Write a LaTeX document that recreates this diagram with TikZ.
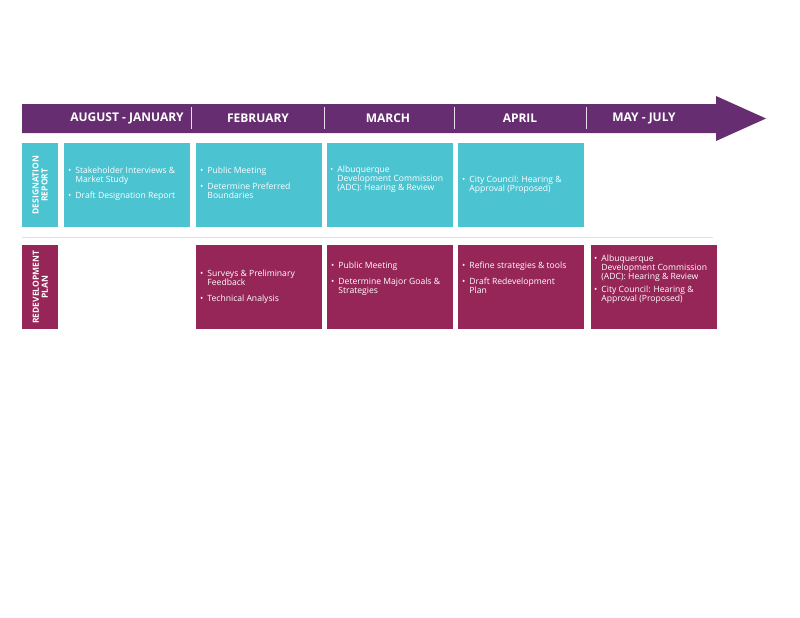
\documentclass[tikz,border=0pt]{standalone}
\usepackage{fontspec}
\setmainfont{Open Sans}
\usetikzlibrary{calc}
\definecolor{tlpurple}{HTML}{662D71}
\definecolor{tlcyan}{HTML}{4BC3D1}
\definecolor{tlplum}{HTML}{962658}
\newcommand{\bl}[1]{\textbullet\hspace{4pt}\begin{tabular}[t]{@{}l@{}}#1\end{tabular}}
\tikzstyle{month} = [text=white, font=\bfseries\fontsize{12}{14}\selectfont]
\tikzstyle{phase} = [minimum width=126pt, minimum height=84pt, inner sep=0pt, anchor=north west]
\tikzstyle{rowlbl} = [minimum width=36pt, minimum height=84pt, inner sep=0pt, anchor=north west]
\tikzstyle{task} = [text=white, anchor=west, inner sep=0pt, align=left,
  font=\fontsize{8.6}{8.6}\selectfont, execute at begin node={\renewcommand{\arraystretch}{0.95}}]

\begin{document}
\begin{tikzpicture}[x=1pt,y=-1pt]
	\useasboundingbox (0,0) rectangle (800,618);

	% timeline arrow
	\fill[tlpurple] (22,104) -- (716,104) -- (716,96) -- (766,118.5)
		-- (716,141) -- (716,133) -- (22,133) -- cycle;
	\foreach \x in {191,324,454,586}
		\draw[white!85!tlpurple, line width=1pt] (\x,107) -- (\x,129);
	\foreach \x/\m in {127/AUGUST - JANUARY,258/FEBRUARY,388/MARCH,520/APRIL,644/MAY - JULY}
		\node[month] at (\x,118.5) {\m};

	% designation report row
	\node[rowlbl, fill=tlcyan] (dlbl) at (22,143) {};
	\node[text=white, rotate=90, align=center, font=\bfseries\fontsize{8.5}{9}\selectfont]
		at (dlbl.center) {DESIGNATION\\REPORT};
	\foreach \x/\n in {64/d1,196/d2,327/d3,458/d4}
		\node[phase, fill=tlcyan] (\n) at (\x,143) {};

	\node[task] at ($(d1.west)+(4,-1)$) {\bl{Stakeholder Interviews \&\\Market Study}\\[6pt]\bl{Draft Designation Report}};
	\node[task] at ($(d2.west)+(4,-1)$) {\bl{Public Meeting}\\[6pt]\bl{Determine Preferred\\Boundaries}};
	\node[task] at ($(d3.west)+(3,-6)$) {\bl{Albuquerque\\Development Commission\\(ADC): Hearing \& Review}};
	\node[task] at ($(d4.west)+(4,0)$) {\bl{City Council: Hearing \&\\Approval (Proposed)}};

	% separator
	\draw[black!12, line width=1pt] (22,237) -- (713,237);

	% redevelopment plan row
	\node[rowlbl, fill=tlplum] (rlbl) at (22,245) {};
	\node[text=white, rotate=90, align=center, font=\bfseries\fontsize{8.5}{9}\selectfont]
		at (rlbl.center) {REDEVELOPMENT\\PLAN};
	\foreach \x/\n in {196/r2,327/r3,458/r4,591/r5}
		\node[phase, fill=tlplum] (\n) at (\x,245) {};

	\node[task] at ($(r2.west)+(4,0)$) {\bl{Surveys \& Preliminary\\Feedback}\\[6pt]\bl{Technical Analysis}};
	\node[task] at ($(r3.west)+(4,-8)$) {\bl{Public Meeting}\\[6pt]\bl{Determine Major Goals \&\\Strategies}};
	\node[task] at ($(r4.west)+(4,-8)$) {\bl{Refine strategies \& tools}\\[6pt]\bl{Draft Redevelopment\\Plan}};
	\node[task] at ($(r5.west)+(3,-8)$) {\bl{Albuquerque\\Development Commission\\(ADC): Hearing \& Review}\\[3pt]\bl{City Council: Hearing \&\\Approval (Proposed)}};

\end{tikzpicture}
\end{document}
